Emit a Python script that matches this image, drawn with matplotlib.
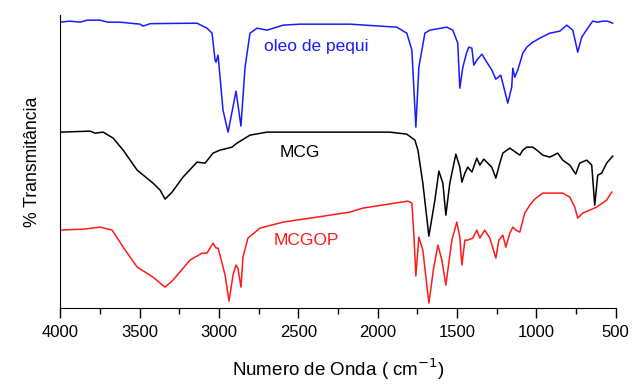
import matplotlib
matplotlib.use("Agg")
import matplotlib.pyplot as plt
from matplotlib.ticker import MultipleLocator

plt.rcParams['font.family'] = ['Liberation Sans', 'DejaVu Sans']

# wavenumber (cm-1) and offset transmittance (arbitrary units)
oleo_wn = [4000, 3940, 3874, 3830, 3748, 3700, 3622, 3560, 3496, 3478, 3433, 3138,
           3075, 3043, 3024, 3018, 3005, 2974, 2942, 2892, 2861, 2835, 2804, 2760,
           2697, 2596, 2489, 2174, 1879, 1816, 1784, 1759, 1740, 1702, 1671, 1564,
           1526, 1495, 1482, 1463, 1438, 1425, 1406, 1394, 1375, 1343, 1312, 1280,
           1255, 1224, 1205, 1180, 1155, 1148, 1136, 1117, 1085, 1060, 1022, 978,
           915, 852, 808, 770, 739, 714, 676, 645, 613, 582, 550, 519]
oleo_t = [286, 287, 286, 288, 288, 286, 286, 285, 284, 282, 284.5, 285,
          280, 275, 248, 246, 253, 198, 176, 217, 182, 241, 275, 280,
          278, 283, 284, 284, 281, 275, 258, 181, 241, 275, 278, 281,
          278, 265, 220, 241, 256, 261, 260, 243, 248, 254, 246, 238,
          229, 233, 221, 205, 221, 240, 231, 238, 255, 261, 266, 270,
          275, 277, 283, 278, 256, 271, 280, 287, 286, 287, 287, 285]

mcg_wn = [4000, 3811, 3780, 3729, 3666, 3603, 3515, 3415, 3370, 3339, 3295, 3226,
          3138, 3087, 3037, 2993, 2917, 2886, 2804, 2697, 2174, 1923, 1816, 1765,
          1746, 1715, 1677, 1639, 1614, 1589, 1570, 1545, 1507, 1482, 1469, 1450,
          1432, 1406, 1375, 1356, 1331, 1306, 1281, 1255, 1230, 1211, 1167, 1104,
          1085, 1060, 1022, 997, 959, 915, 865, 834, 789, 752, 727, 682,
          651, 632, 613, 588, 557, 519]
mcg_t = [176, 177, 175, 176, 170, 158, 138, 125, 118, 109, 116, 131,
         146, 145, 155, 158, 161, 165, 173, 176, 176, 176, 174, 168,
         158, 125, 72, 108, 137, 125, 93, 125, 154, 141, 126, 135,
         141, 136, 150, 143, 149, 145, 141, 130, 145, 155, 160, 153,
         158, 161, 161, 158, 153, 151, 155, 148, 143, 134, 145, 148,
         143, 103, 133, 135, 145, 152]

mcgop_wn = [4000, 3850, 3748, 3673, 3603, 3515, 3415, 3370, 3339, 3289, 3182, 3106,
            3075, 3037, 3018, 3005, 2980, 2961, 2936, 2911, 2892, 2880, 2861, 2848,
            2817, 2741, 2596, 2382, 2174, 2093, 1809, 1784, 1772, 1759, 1740, 1715,
            1677, 1646, 1620, 1595, 1570, 1532, 1501, 1482, 1469, 1450, 1432, 1400,
            1375, 1356, 1325, 1293, 1274, 1255, 1236, 1211, 1192, 1167, 1148, 1129,
            1104, 1073, 1041, 1010, 959, 915, 834, 789, 758, 739, 708, 620,
            557, 525]
mcgop_t = [78, 79, 81, 78, 61, 41, 31, 25, 21, 28, 48, 55,
           55, 65, 60, 60, 45, 33, 7, 33, 43, 40, 21, 51,
           70, 80, 86, 91, 96, 100, 107, 105, 75, 32, 71, 58,
           5, 41, 63, 48, 23, 68, 86, 71, 43, 68, 68, 70,
           78, 70, 78, 70, 60, 50, 68, 73, 61, 75, 81, 78,
           76, 95, 103, 109, 115, 115, 115, 111, 101, 90, 95, 101,
           108, 116]

fig = plt.figure(figsize=(6.4, 3.89), dpi=100)
ax = fig.add_axes([0.094, 0.208, 0.868, 0.753])

ax.plot(oleo_wn, oleo_t, color='#1a1aff', lw=1.1)
ax.plot(mcg_wn, mcg_t, color='black', lw=1.1)
ax.plot(mcgop_wn, mcgop_t, color='#ff1a1a', lw=1.1)

ax.text(2388, 262, 'oleo de pequi', color='#1a1aff', fontsize=12.5, ha='center', va='center')
ax.text(2489, 156, 'MCG', color='black', fontsize=12.5, ha='center', va='center')
ax.text(2451, 68, 'MCGOP', color='#ff1a1a', fontsize=12.5, ha='center', va='center')

ax.set_xlim(4000, 500)
ax.set_ylim(0, 293)
ax.xaxis.set_major_locator(MultipleLocator(500))
ax.xaxis.set_minor_locator(MultipleLocator(250))
ax.tick_params(axis='x', which='major', direction='out', length=7, width=1,
               labelsize=12, pad=5)
ax.tick_params(axis='x', which='minor', direction='out', length=4, width=1)
ax.set_yticks([])
ax.spines['top'].set_visible(False)
ax.spines['right'].set_visible(False)
ax.set_xlabel('Numero de Onda ( cm$^{-1}$)', fontsize=13.5, labelpad=12)
ax.set_ylabel('% Transmitância', fontsize=12.7, labelpad=14)

fig.savefig('out.png', dpi=100)
